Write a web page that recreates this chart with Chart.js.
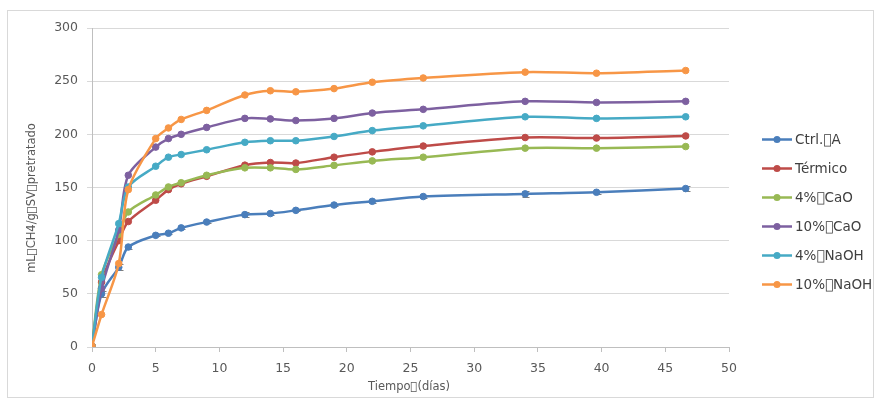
<!DOCTYPE html>
<html>
<head>
<meta charset="utf-8">
<script src="https://cdn.jsdelivr.net/npm/chart.js@4.4.0/dist/chart.umd.min.js"></script>
<style>
html,body{margin:0;padding:0;background:#fff;}
#wrap{position:relative;width:877px;height:403px;}
</style>
</head>
<body>
<div id="wrap"><canvas id="c" width="877" height="403"></canvas></div>
<script>
// Data
const days    = [0, 0.75, 2.1, 2.85, 5, 6, 7, 9, 12, 14, 16, 19, 22, 26, 34, 39.6, 46.6];
const ctrlA   = [1, 50, 75, 94, 105, 107, 112, 117.5, 124.5, 125.5, 128.5, 133.5, 137, 141.5, 144, 145.5, 149];
const ctrlErr = [0, 3, 3, 1.5, 1, 1, 1, 1, 2.5, 1.5, 1, 1, 1.5, 1, 2.5, 1.5, 2.5];
const termico = [1, 61, 100, 118, 138, 148, 153.5, 160.5, 171, 173.5, 173, 178.5, 183.5, 189, 197, 196.5, 198.5];
const cao4    = [1, 68, 106, 127, 143, 150.5, 154.5, 161.5, 168.5, 168.5, 167, 170.8, 175, 178.5, 187, 187, 188.5];
const cao10   = [1, 55, 110, 161.5, 188, 196, 200, 206.5, 215, 214.5, 213, 215, 220, 223.5, 231, 230, 231];
const naoh4   = [1, 65.5, 116, 150.5, 170, 178.5, 181, 185.5, 192.5, 194, 194, 198, 203.5, 208, 216.5, 215, 216.5];
const naoh10  = [1, 30.5, 78.5, 148, 196, 206, 214, 222.5, 237, 241, 240, 243, 249, 253, 258.5, 257.5, 260];

const seriesNames = ["Ctrl.\uF020A", "Térmico", "4%\uF020CaO", "10%\uF020CaO", "4%\uF020NaOH", "10%\uF020NaOH"];
const seriesData  = [ctrlA, termico, cao4, cao10, naoh4, naoh10];
const seriesColors = ["#4a7ebb", "#be4b48", "#98b954", "#7d60a0", "#46aac5", "#f79646"];

const xTitle = "Tiempo\uF020(días)";
const yTitle = "mL\uF020CH4/g\uF020SV\uF020pretratado";

const FONT = "'DejaVu Sans', Verdana, sans-serif";

const datasets = seriesData.map((arr, i) => ({
  label: seriesNames[i],
  data: arr.map((v, k) => ({x: days[k], y: v})),
  borderColor: seriesColors[i],
  backgroundColor: seriesColors[i],
  pointBackgroundColor: seriesColors[i],
  pointBorderColor: seriesColors[i],
  borderWidth: 2.5,
  pointRadius: 3.3,
  pointBorderWidth: 1,
  tension: 0.3,
  fill: false,
  order: 5 - i
}));

const extras = {
  id: 'extras',
  beforeDatasetsDraw(chart) {
    const ctx = chart.ctx, xs = chart.scales.x, ys = chart.scales.y;
    ctx.save();
    ctx.strokeStyle = '#7f7f7f';
    ctx.lineWidth = 1;
    days.forEach((d, k) => {
      const e = ctrlErr[k];
      if (!e) return;
      const px = Math.round(xs.getPixelForValue(d)) + 0.5;
      const y1 = Math.round(ys.getPixelForValue(ctrlA[k] - e)) + 0.5;
      const y2 = Math.round(ys.getPixelForValue(ctrlA[k] + e)) + 0.5;
      ctx.beginPath();
      ctx.moveTo(px, y1); ctx.lineTo(px, y2);
      ctx.moveTo(px - 3, y1); ctx.lineTo(px + 4, y1);
      ctx.moveTo(px - 3, y2); ctx.lineTo(px + 4, y2);
      ctx.stroke();
    });
    ctx.restore();
  },
  afterDraw(chart) {
    const ctx = chart.ctx;
    ctx.save();
    // outer border
    ctx.strokeStyle = '#d9d9d9';
    ctx.lineWidth = 1;
    ctx.strokeRect(7.5, 10.5, 866, 387);
    // axis titles
    ctx.fillStyle = '#595959';
    ctx.font = "11.5px " + FONT;
    ctx.textAlign = 'center';
    ctx.textBaseline = 'middle';
    ctx.fillText(xTitle, 409, 387);
    ctx.save();
    ctx.translate(32, 198);
    ctx.rotate(-Math.PI / 2);
    ctx.fillText(yTitle, 0, 0);
    ctx.restore();
    // legend
    ctx.font = "13.5px " + FONT;
    ctx.textAlign = 'left';
    seriesNames.forEach((name, i) => {
      const y = 139.5 + i * 29;
      const c = seriesColors[i];
      ctx.strokeStyle = c;
      ctx.lineWidth = 2.5;
      ctx.beginPath();
      ctx.moveTo(762, y); ctx.lineTo(792, y);
      ctx.stroke();
      ctx.fillStyle = c;
      ctx.beginPath();
      ctx.arc(777, y, 3.5, 0, Math.PI * 2);
      ctx.fill();
      ctx.fillStyle = '#404040';
      ctx.fillText(name, 795, y + 0.5);
    });
    ctx.restore();
  }
};

new Chart(document.getElementById('c'), {
  type: 'line',
  data: { datasets },
  options: {
    responsive: false,
    animation: false,
    devicePixelRatio: 1,
    layout: { padding: { top: 28, right: 148, left: 0, bottom: 0 } },
    plugins: { legend: { display: false }, tooltip: { enabled: false } },
    scales: {
      x: {
        type: 'linear', min: 0, max: 50,
        ticks: { stepSize: 5, color: '#595959', font: { family: FONT, size: 12.5 }, padding: 9 },
        grid: { drawOnChartArea: false, drawTicks: true, tickLength: 5, color: '#bfbfbf' },
        border: { display: true, color: '#bfbfbf', width: 1 },
        afterFit(s) { s.height = 56; }
      },
      y: {
        min: 0, max: 300,
        ticks: { stepSize: 50, color: '#595959', font: { family: FONT, size: 12.5 }, padding: 9 },
        grid: { color: '#d9d9d9', tickLength: 5, drawTicks: true },
        border: { display: true, color: '#bfbfbf', width: 1 },
        afterFit(s) { s.width = 92; }
      }
    }
  },
  plugins: [extras]
});
</script>
</body>
</html>
